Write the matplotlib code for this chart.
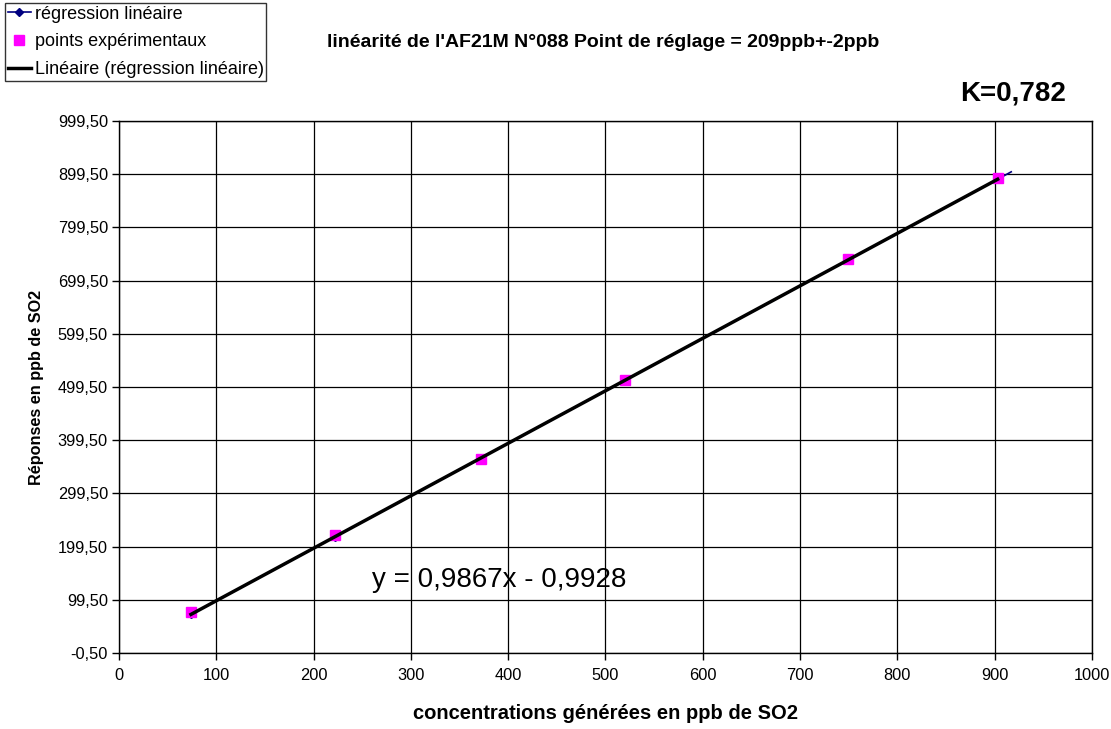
import matplotlib.pyplot as plt
import numpy as np
from matplotlib.ticker import FuncFormatter

plt.rcParams['font.family'] = ['Liberation Sans', 'DejaVu Sans']

# concentrations generated (x) and analyser responses (y), ppb SO2
conc = [74, 222, 372, 520, 749, 903]
resp = [77, 221, 365, 512, 741, 893]

# blue "régression linéaire" series runs a bit past the last point
reg_x = [74, 222, 372, 520, 749, 903, 917]
reg_y = [72, 218, 366, 512, 738, 890, 904]

slope = 0.9867
intercept = -0.9928

x_ticks = list(range(0, 1001, 100))
y_ticks = [-0.5 + 100 * k for k in range(11)]

fig = plt.figure(figsize=(11.11, 7.29), dpi=100)
ax = fig.add_axes([0.1071, 0.1043, 0.8758, 0.7297])

ax.plot(reg_x, reg_y, color='#000080', lw=1.2, marker='D', ms=4,
        markevery=list(range(6)), label='régression linéaire', zorder=3)
ax.plot(conc, resp, ls='none', marker='s', ms=7.3, color='#ff00ff',
        label='points expérimentaux', zorder=4)
fx = np.array([conc[0], conc[-1]])
ax.plot(fx, slope * fx + intercept, color='black', lw=2.5,
        label='Linéaire (régression linéaire)', zorder=5)

ax.set_xlim(0, 1000)
ax.set_ylim(-0.5, 999.5)
ax.set_xticks(x_ticks)
ax.set_yticks(y_ticks)
ax.yaxis.set_major_formatter(FuncFormatter(lambda v, p: f"{v:.2f}".replace('.', ',')))
ax.tick_params(direction='out', length=5, width=1, labelsize=11.8, colors='black', pad=3)
ax.tick_params(axis='x', pad=6)
ax.grid(True, color='black', lw=0.9)
ax.set_axisbelow(True)
for s in ax.spines.values():
    s.set_color('black')
    s.set_linewidth(1)

ax.set_xlabel('concentrations générées en ppb de SO2', fontsize=14.5, fontweight='bold', labelpad=15)
ax.set_ylabel('Réponses en ppb de SO2', fontsize=11.7, fontweight='bold', labelpad=10)

fig.text(0.543, 0.942, "linéarité de l'AF21M N°088 Point de réglage = 209ppb+-2ppb",
         ha='center', va='center', fontsize=14, fontweight='bold')
fig.text(0.912, 0.872, 'K=0,782', ha='center', va='center', fontsize=20, fontweight='bold')
ax.text(260, 137, 'y = 0,9867x - 0,9928', ha='left', va='center', fontsize=20)

leg = fig.legend(loc='upper left', bbox_to_anchor=(0.0045, 0.996), fontsize=13,
                 frameon=True, fancybox=False, edgecolor='black', borderpad=0.15,
                 handlelength=1.3, handletextpad=0.2, labelspacing=0.6, borderaxespad=0)
leg.get_frame().set_linewidth(1)

fig.savefig('out.png', dpi=100)
